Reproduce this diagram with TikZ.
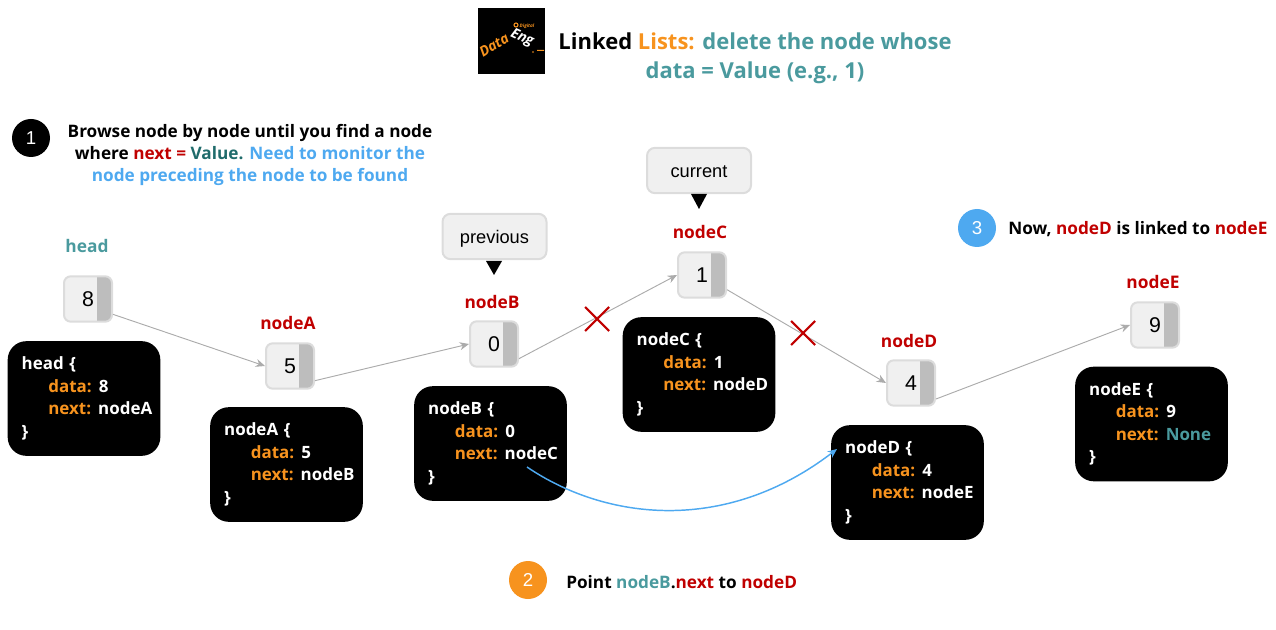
\documentclass[tikz,border=0pt]{standalone}
\usepackage{fontspec}
\setmainfont{Open Sans}
\newfontfamily\lsans{Liberation Sans}
\usetikzlibrary{arrows.meta}
\definecolor{tealc}{HTML}{4A9A9E}
\definecolor{darkteal}{HTML}{1F6B6B}
\definecolor{redc}{HTML}{C00000}
\definecolor{orangec}{HTML}{F7931E}
\definecolor{bluec}{HTML}{4EA9F0}
\definecolor{boxgray}{HTML}{F0F0F0}
\definecolor{edgegray}{HTML}{DCDCDC}
\definecolor{ptrgray}{HTML}{BDBDBD}
\definecolor{arrowgray}{HTML}{ABABAB}
\tikzstyle{Lcell}=[draw=edgegray,line width=1.5pt,fill=boxgray,rounded corners=5pt,minimum width=36pt,minimum height=34pt,inner sep=0,
  font=\lsans\fontsize{16}{18}\selectfont,
  path picture={\fill[ptrgray,sharp corners] ([xshift=-11pt]path picture bounding box.north east) rectangle (path picture bounding box.south east);}]
\tikzstyle{Lcode}=[fill=black,text=white,rounded corners=14pt,minimum width=114.5pt,text width=114.5pt,minimum height=86pt,inner sep=0,
  align=left,font=\bfseries\fontsize{12.7}{16.8}\selectfont]
\tikzstyle{Ltag}=[font=\bfseries\fontsize{13}{15}\selectfont,text=redc,inner sep=0]
\tikzstyle{Lcall}=[draw=edgegray,line width=1.5pt,fill=boxgray,rounded corners=6pt,minimum width=78pt,minimum height=34pt,inner sep=0,
  text height=10pt,text depth=0pt,font=\lsans\fontsize{13.7}{15}\selectfont]
\tikzstyle{Lstep}=[circle,minimum size=28.5pt,inner sep=0,text=white,font=\lsans\fontsize{14}{16}\selectfont]
\tikzstyle{Lnote}=[font=\bfseries\fontsize{12.9}{16.5}\selectfont,inner sep=0,align=center]
\tikzstyle{Ltitle}=[font=\bfseries\fontsize{16.5}{21.8}\selectfont,inner sep=0,align=center]
\tikzstyle{Llogo}=[font=\bfseries\itshape\fontsize{10.5}{11}\selectfont,inner sep=0]
\tikzstyle{Lcut}=[draw=redc,line width=1.6pt]
\tikzstyle{Llink}=[draw=arrowgray,line width=.7pt,-{Stealth[length=7pt,width=6pt]}]
\newcommand{\lcode}[5]{\node[Lcode] (#1) at (#2) {\hspace*{10.5pt}#3 \{\\\hspace*{30.5pt}\textcolor{orangec}{data:}\hspace{-1pt} #4\\\hspace*{30.5pt}\textcolor{orangec}{next:}\hspace{-1pt} #5\\\hspace*{10.5pt}\}};}
\newcommand{\lcut}[1]{\draw[Lcut] (#1)++(-12,-12) -- ++(24,24) (#1)++(-12,12) -- ++(24,-24);}
\begin{document}
\begin{tikzpicture}[x=.75pt,y=-.75pt]
  \useasboundingbox (0,0) rectangle (1276,630);
  % title
  \node[fill=black,minimum width=50.25pt,minimum height=49.5pt,inner sep=0] (logo) at (511.5,41) {};
  \node[Llogo,text=orangec,rotate=32] (logoa) at (494,45) {Data};
  \node[Llogo,text=white,rotate=-25] (logob) at (522,38) {Eng};
  \draw[orangec,line width=.8pt] (516,25) circle (2);
  \node[font=\bfseries\itshape\fontsize{3.5}{4}\selectfont,text=orangec,inner sep=0] (logoc) at (527,26) {Digital};
  \fill[orangec] (533,52) circle (.9) (537,50) rectangle (544,51);
  \node[Ltitle] (title) at (755,58) {Linked \textcolor{orangec}{Lists:} \textcolor{tealc}{delete the node whose}\\\textcolor{tealc}{data = Value (e.g., 1)}};
  % steps
  \node[Lstep,fill=black] (one) at (31,138) {1};
  \node[Lnote] (onetext) at (250,155) {Browse node by node until you find a node\\where \textcolor{redc}{next =} \textcolor{darkteal}{Value.} \textcolor{bluec}{Need to monitor the}\\\textcolor{bluec}{node preceding the node to be found}};
  \node[Lstep,fill=orangec] (two) at (528,580) {2};
  \node[Lnote,anchor=west] (twotext) at (566,582) {Point \textcolor{tealc}{nodeB}.\textcolor{redc}{next} to \textcolor{redc}{nodeD}};
  \node[Lstep,fill=bluec] (three) at (977,228) {3};
  \node[Lnote,anchor=west] (threetext) at (1008,229) {Now, \textcolor{redc}{nodeD} is linked to \textcolor{redc}{nodeE}};
  % list cells
  \node[Lcell] (n8) at (88,299) {8};
  \node[Lcell] (n5) at (290,366) {5};
  \node[Lcell] (n0) at (494,344) {0};
  \node[Lcell] (n1) at (702,275) {1};
  \node[Lcell] (n4) at (911,383) {4};
  \node[Lcell] (n9) at (1155,325) {9};
  \node[Ltag,text=tealc] (head) at (87,246) {head};
  \node[Ltag] (nodeA) at (288,323) {nodeA};
  \node[Ltag] (nodeB) at (492,302) {nodeB};
  \node[Ltag] (nodeC) at (700,232) {nodeC};
  \node[Ltag] (nodeD) at (909,341) {nodeD};
  \node[Ltag] (nodeE) at (1153,282) {nodeE};
  % code boxes
  \lcode{headc}{84,398.5}{head}{8}{nodeA};
  \lcode{codeA}{286.5,464.5}{nodeA}{5}{nodeB};
  \lcode{codeB}{490.5,443.5}{nodeB}{0}{nodeC};
  \lcode{codeC}{699,374.5}{nodeC}{1}{nodeD};
  \lcode{codeD}{907.5,482.5}{nodeD}{4}{nodeE};
  \lcode{codeE}{1151.5,424}{nodeE}{9}{\textcolor{tealc}{None}};
  % callouts
  \node[Lcall] (prev) at (494.5,236.5) {previous};
  \node[Lcall] (curr) at (699,170.5) {current};
  \fill (486,261) -- (502,261) -- (494,275) -- cycle;
  \fill (691,194) -- (707,194) -- (699,209) -- cycle;
  % links
  \draw[Llink] ([yshift=-11.5pt]n8.east) -- (n5.west);
  \draw[Llink] ([yshift=-11pt]n5.east) -- (n0.west);
  \draw[Llink] ([yshift=-11pt]n0.east) -- (n1.west);
  \draw[Llink] ([yshift=-11pt]n1.east) -- (n4.west);
  \draw[Llink] ([yshift=-12pt]n4.east) -- (n9.west);
  \coordinate (bfrom) at (527,467);
  \coordinate (dto) at (837,449);
  \draw[draw=bluec,line width=1.1pt,-{Stealth[length=7pt,width=6pt]}] (bfrom) .. controls (605,520) and (725,535) .. (dto);
  \lcut{597,319};
  \lcut{803,333};
\end{tikzpicture}
\end{document}
